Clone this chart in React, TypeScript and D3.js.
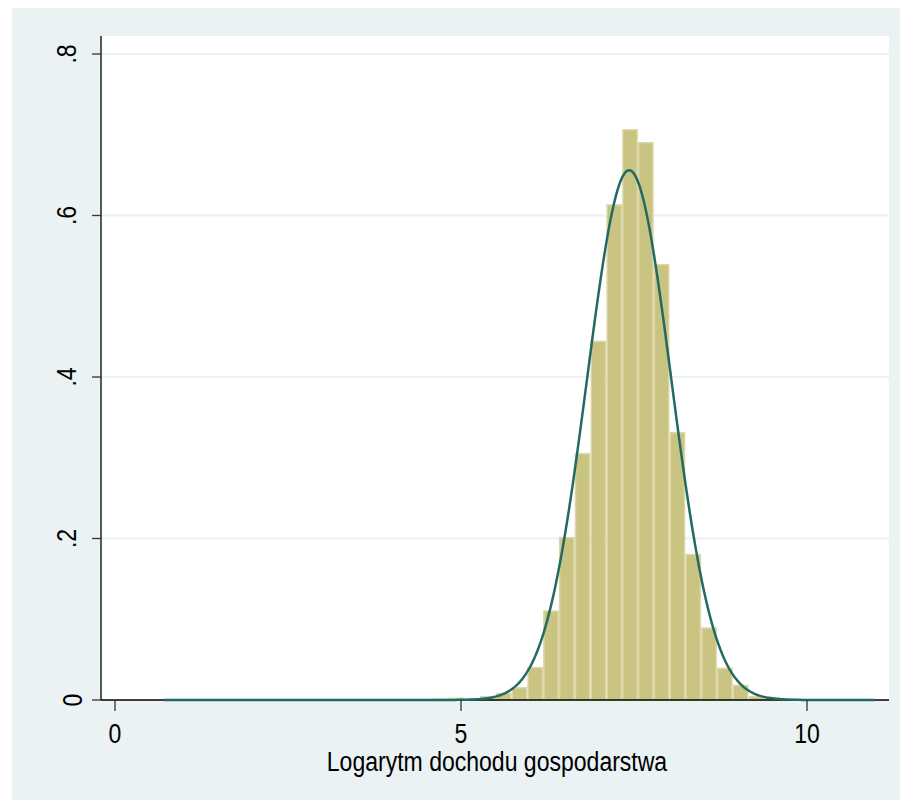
import React from "react";
import * as d3 from "d3";

// Histogram of log household income (density scale), 45 equal-width bins
const BIN_START = 0.708;
const BIN_WIDTH = 0.2283;
const binDensities = [
  0.0001, 0, 0, 0, 0, 0, 0, 0, 0, 0,
  0, 0, 0, 0, 0, 0, 0,
  0.002, 0.003, 0.002, 0.005, 0.009, 0.016, 0.041, 0.111, 0.202,
  0.306, 0.445, 0.614, 0.707, 0.691, 0.540, 0.332, 0.181, 0.090, 0.040,
  0.019, 0.005, 0.004, 0.002, 0, 0, 0, 0, 0.0001,
];

// Fitted normal density overlay
const NORMAL_MEAN = 7.43;
const NORMAL_SD = 0.608;

const xTicks = [0, 5, 10];
const yTicks = [0, 0.2, 0.4, 0.6, 0.8];
const yTickLabels = ["0", ".2", ".4", ".6", ".8"];
const xTitle = "Logarytm dochodu gospodarstwa";

const W = 902;
const H = 804;
const plot = { left: 101, right: 889, top: 36, bottom: 700 };

const FONT = "'Liberation Sans', Arial, sans-serif";
const FONT_SIZE = 27;
// condensed look of the axis text
const NARROW = 0.853;

export default function App() {
  const x = d3.scaleLinear().domain([0, 10]).range([115, 807]);
  const y = d3.scaleLinear().domain([0, 0.8]).range([700, 54]);

  const xMin = BIN_START;
  const xMax = BIN_START + BIN_WIDTH * binDensities.length;
  const normal = (v: number) =>
    Math.exp(-0.5 * ((v - NORMAL_MEAN) / NORMAL_SD) ** 2) / (NORMAL_SD * Math.sqrt(2 * Math.PI));
  const curvePts = d3.range(0, 401).map((i) => {
    const v = xMin + ((xMax - xMin) * i) / 400;
    return [v, normal(v)] as [number, number];
  });
  const line = d3
    .line<[number, number]>()
    .x((d) => x(d[0]))
    .y((d) => y(d[1]))
    .curve(d3.curveLinear);

  const bars = binDensities.map((d, i) => {
    const x0 = x(BIN_START + i * BIN_WIDTH);
    const x1 = x(BIN_START + (i + 1) * BIN_WIDTH);
    return { x0, x1, top: y(d), h: y(0) - y(d) };
  });

  return (
    <svg
      width={W}
      height={H}
      style={{ position: "absolute", left: 0, top: 0 }}
      fontFamily={FONT}
    >
      <rect x={0} y={0} width={W} height={H} fill="#ffffff" />
      <rect x={12} y={8} width={888} height={792} fill="#eaf2f3" />
      <rect
        x={plot.left}
        y={plot.top}
        width={plot.right - plot.left}
        height={plot.bottom - plot.top}
        fill="#ffffff"
      />
      {/* horizontal grid */}
      {yTicks.slice(1).map((t) => (
        <line
          key={t}
          x1={plot.left}
          x2={plot.right}
          y1={y(t)}
          y2={y(t)}
          stroke="#eaf2f3"
          strokeWidth={2}
        />
      ))}
      {/* bars */}
      {bars
        .filter((b) => b.h >= 0.5)
        .map((b, i) => (
          <rect
            key={i}
            x={b.x0 + 0.75}
            y={b.top + 0.75}
            width={b.x1 - b.x0 - 1.5}
            height={Math.max(0, b.h - 0.75)}
            fill="#cac482"
            stroke="#dcd7a4"
            strokeWidth={1.5}
          />
        ))}
      {/* axes */}
      <line x1={plot.left} x2={plot.left} y1={plot.top} y2={plot.bottom} stroke="#000" strokeWidth={1.3} />
      <line x1={plot.left} x2={plot.right} y1={plot.bottom} y2={plot.bottom} stroke="#000" strokeWidth={1.3} />
      {/* normal curve */}
      <path d={line(curvePts) || ""} fill="none" stroke="#236a63" strokeWidth={2.5} />
      {/* y ticks */}
      {yTicks.map((t, i) => {
        const lbl = yTickLabels[i];
        const baseX = 82 - (lbl.length - 1) * 6;
        return (
          <g key={t}>
            <line x1={92} x2={plot.left} y1={y(t)} y2={y(t)} stroke="#333" strokeWidth={1.3} />
            <text
              transform={`translate(${baseX},${y(t)}) rotate(-90) scale(${NARROW},1)`}
              textAnchor="middle"
              fontSize={FONT_SIZE}
              fill="#000"
            >
              {lbl}
            </text>
          </g>
        );
      })}
      {/* x ticks */}
      {xTicks.map((t) => (
        <g key={t}>
          <line x1={x(t)} x2={x(t)} y1={plot.bottom} y2={711} stroke="#333" strokeWidth={1.3} />
          <text
            transform={`translate(${x(t)},743) scale(${NARROW},1)`}
            textAnchor="middle"
            fontSize={FONT_SIZE}
            fill="#000"
          >
            {t}
          </text>
        </g>
      ))}
      <text
        transform={`translate(497,771) scale(${NARROW},1)`}
        textAnchor="middle"
        fontSize={FONT_SIZE}
        fill="#000"
      >
        {xTitle}
      </text>
    </svg>
  );
}
